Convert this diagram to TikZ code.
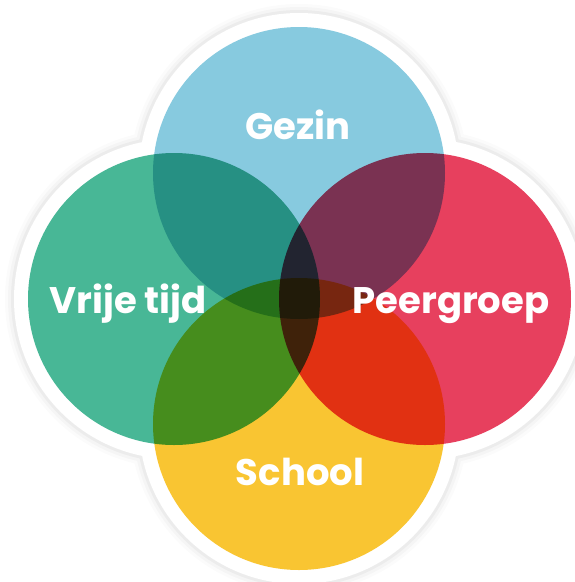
\documentclass[tikz,border=0pt]{standalone}
\usepackage{fontspec}
\newfontfamily\labelfont{Poppins}
\definecolor{gezinblue}{HTML}{87CADF}
\definecolor{vrijteal}{HTML}{48B796}
\definecolor{peerred}{HTML}{E7405E}
\definecolor{schoolyellow}{HTML}{F9C532}
\tikzset{
  lbl/.style={anchor=base, text=white, inner sep=0pt, font=\labelfont\bfseries\fontsize{37}{40}\selectfont},
}
\begin{document}
\begin{tikzpicture}[x=1pt,y=-1pt]
\useasboundingbox (0,0) rectangle (575,582);
% soft shadow and white rim
\foreach \r/\o in {169/0.015,166/0.025,163/0.035} {
  \begin{scope}[transparency group, opacity=\o]
    \fill[black] (299,173) circle (\r) (174,299) circle (\r) (425,299) circle (\r) (299,424) circle (\r);
  \end{scope}
}
\fill[white] (299,173) circle (160) (174,299) circle (160) (425,299) circle (160) (299,424) circle (160);
%%
\begin{scope}[blend group=multiply]
  \fill[gezinblue] (299,173) circle (146);
  \fill[vrijteal] (174,299) circle (146);
  \fill[peerred] (425,299) circle (146);
  \fill[schoolyellow] (299,424) circle (146);
\end{scope}
%%
\node[lbl] (gezin) at (298,139) {Gezin};
\node[lbl] (vrijetijd) at (128,313) {Vrije tijd};
\node[lbl] (peergroep) at (451,313) {Peergroep};
\node[lbl] (school) at (300,485) {School};
\end{tikzpicture}
\end{document}
